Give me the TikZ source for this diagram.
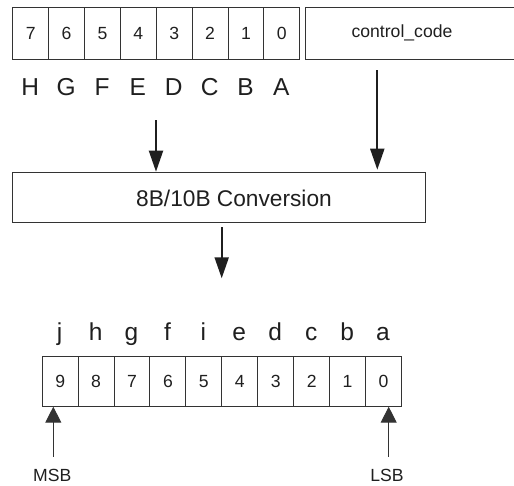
\documentclass[tikz,border=0pt]{standalone}
\usepackage{fontspec}
\setmainfont{Liberation Sans}
\usetikzlibrary{arrows.meta}
\definecolor{linecol}{gray}{0.2}
\definecolor{txtcol}{gray}{0.12}
\begin{document}
\begin{tikzpicture}[x=1pt,y=-1pt,
  cell/.style={draw=linecol, line width=1pt, inner sep=0pt, anchor=north west,
    text=txtcol, font=\fontsize{17.6}{20}\selectfont},
  lbl/.style={anchor=base, inner sep=0pt, text=txtcol, font=\fontsize{24.5}{28}\selectfont},
  convfont/.style={inner sep=0pt, text=txtcol, font=\fontsize{22.7}{26}\selectfont},
  smalltxt/.style={anchor=base, inner sep=0pt, text=txtcol, font=\fontsize{17.6}{20}\selectfont},
  bigarrow/.style={draw=txtcol, line width=2pt, -{Triangle[length=21pt,width=14pt]}},
  smallarrow/.style={draw=linecol, line width=1pt, -{Triangle[length=16pt,width=16pt]}}]
\useasboundingbox (0,0) rectangle (514,485);
% top register
\foreach \i in {0,...,7}{
  \pgfmathtruncatemacro\d{7-\i}
  \node[cell, minimum width=35.875pt, minimum height=51.7pt] (t\d) at ({12.3+\i*35.875},7.3) {\d};
}
\foreach \l [count=\i from 0] in {H,G,F,E,D,C,B,A}{
  \node[lbl] (tl\i) at ({30.25+\i*35.875},95) {\l};
}
% control code box (runs off the right edge)
\node[cell, minimum width=220pt, minimum height=51.7pt] (cc) at (305,7.3) {};
\node[smalltxt, anchor=center] (cctxt) at (402,33) {control\_code};
% conversion box
\node[cell, minimum width=412.7pt, minimum height=50.6pt] (conv) at (12.3,171.7) {};
\node[convfont, anchor=center] (convtxt) at (234,198) {8B/10B Conversion};
% arrows into conversion
\coordinate (a1s) at (156,120);
\draw[bigarrow] (a1s) -- (a1s |- conv.north);
\coordinate (a2s) at (377.3,70);
\draw[bigarrow, shorten >=2pt] (a2s) -- (a2s |- conv.north);
% arrow out of conversion
\coordinate (a3s) at (221.7,227.3);
\coordinate (a3e) at (221.7,278.3);
\draw[bigarrow] (a3s) -- (a3e);
% bottom register
\foreach \i in {0,...,9}{
  \pgfmathtruncatemacro\d{9-\i}
  \node[cell, minimum width=35.93pt, minimum height=50pt] (b\d) at ({41.7+\i*35.93},355.7) {\d};
}
\foreach \l [count=\i from 0] in {j,h,g,f,i,e,d,c,b,a}{
  \node[lbl] (bl\i) at ({59.66+\i*35.93},340) {\l};
}
% MSB / LSB
\node[smalltxt] (msb) at (52.3,481.7) {MSB};
\node[smalltxt] (lsb) at (387,481.7) {LSB};
\coordinate (msbs) at (53.3,456.7);
\coordinate (lsbs) at (388.7,456.7);
\draw[smallarrow] (msbs) -- (msbs |- b9.south);
\draw[smallarrow] (lsbs) -- (lsbs |- b0.south);
\end{tikzpicture}
\end{document}
